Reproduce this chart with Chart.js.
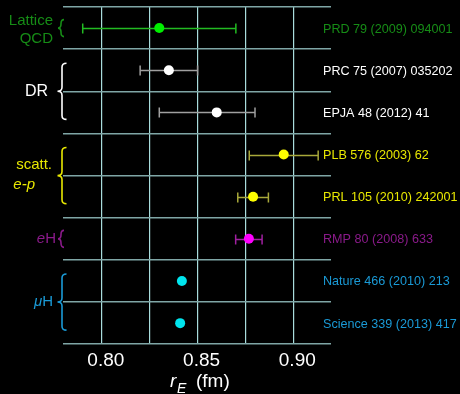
<!DOCTYPE html>
<html>
<head>
<meta charset="utf-8">
<script src="https://cdn.jsdelivr.net/npm/chart.js@4/dist/chart.umd.min.js"></script>
<style>
  html, body { margin: 0; padding: 0; background: #000; }
  #wrap { width: 460px; height: 394px; }
</style>
</head>
<body>
<div id="wrap"><canvas id="radiusChart" width="460" height="394"></canvas></div>
<script>
// references, one row each (top to bottom)
const refs = ['PRD 79 (2009) 094001', 'PRC 75 (2007) 035202', 'EPJA 48 (2012) 41', 'PLB 576 (2003) 62',
  'PRL 105 (2010) 242001', 'RMP 80 (2008) 633', 'Nature 466 (2010) 213', 'Science 339 (2013) 417'];
// proton charge radius r_E (fm) and error bars
const radius = [0.830, 0.835, 0.860, 0.895, 0.879, 0.8768, 0.8418, 0.8409];
const errLow = [0.040, 0.015, 0.030, 0.018, 0.008, 0.0069, 0, 0];
const errHigh = [0.040, 0.015, 0.020, 0.018, 0.008, 0.0069, 0, 0];
const pointColors = ['#00ee00', '#ffffff', '#ffffff', '#ffff00', '#ffff00', '#ff00ff', '#00e5ee', '#00e5ee'];
const barColors = ['#22bb22', '#a0a0a0', '#a0a0a0', '#a8a83a', '#a8a83a', '#a020a0', '#00e5ee', '#00e5ee'];
const labelColors = ['#168c16', '#ffffff', '#ffffff', '#e8e800', '#e8e800', '#8a1a8a', '#1a9ad6', '#1a9ad6'];
const xTicks = [0.80, 0.825, 0.85, 0.875, 0.90];
const xLabelled = [0.80, 0.85, 0.90];
// groups: first row, last row
const groupRows = [[0, 0], [1, 2], [3, 4], [5, 5], [6, 7]];
const groupColors = ['#168c16', '#ffffff', '#e8e800', '#8a1a8a', '#1a9ad6'];

const FONT = '"Liberation Sans", Arial, sans-serif';

const errorBars = {
  id: 'errorBars',
  beforeDatasetsDraw(chart) {
    const { ctx, scales: { x, y } } = chart;
    ctx.save();
    ctx.lineWidth = 1.5;
    radius.forEach((v, i) => {
      if (!errLow[i] && !errHigh[i]) return;
      const yy = Math.round(y.getPixelForValue(i)) + 0.5;
      const x0 = x.getPixelForValue(v - errLow[i]);
      const x1 = x.getPixelForValue(v + errHigh[i]);
      ctx.strokeStyle = barColors[i];
      ctx.beginPath();
      ctx.moveTo(x0, yy); ctx.lineTo(x1, yy);
      ctx.moveTo(x0, yy - 5); ctx.lineTo(x0, yy + 5);
      ctx.moveTo(x1, yy - 5); ctx.lineTo(x1, yy + 5);
      ctx.stroke();
    });
    ctx.restore();
  }
};

function brace(ctx, x, y0, y1, w) {
  const mid = (y0 + y1) / 2;
  const r = Math.min(4, (y1 - y0) / 4);
  ctx.beginPath();
  ctx.moveTo(x + w / 2, y0);
  ctx.quadraticCurveTo(x, y0, x, y0 + r);
  ctx.lineTo(x, mid - r);
  ctx.quadraticCurveTo(x, mid, x - w / 2, mid);
  ctx.quadraticCurveTo(x, mid, x, mid + r);
  ctx.lineTo(x, y1 - r);
  ctx.quadraticCurveTo(x, y1, x + w / 2, y1);
  ctx.stroke();
}

// draws a run of [text, italic] pieces, right aligned at xr
function drawRuns(ctx, runs, xr, yy, size, color) {
  ctx.fillStyle = color;
  ctx.textBaseline = 'middle';
  ctx.textAlign = 'left';
  let total = 0;
  runs.forEach(([t, it]) => { ctx.font = (it ? 'italic ' : '') + size + 'px ' + FONT; total += ctx.measureText(t).width; });
  let cx = xr - total;
  runs.forEach(([t, it]) => {
    ctx.font = (it ? 'italic ' : '') + size + 'px ' + FONT;
    ctx.fillText(t, cx, yy);
    cx += ctx.measureText(t).width;
  });
}

const annotations = {
  id: 'annotations',
  afterDraw(chart) {
    const { ctx, scales: { x, y } } = chart;
    ctx.save();
    // reference labels on the right
    ctx.font = '12.6px ' + FONT;
    ctx.textAlign = 'left';
    ctx.textBaseline = 'middle';
    refs.forEach((r, i) => {
      ctx.fillStyle = labelColors[i];
      ctx.fillText(r, 323, y.getPixelForValue(i) + 1);
    });
    // braces
    ctx.lineWidth = 1.6;
    groupRows.forEach(([a, b], g) => {
      ctx.strokeStyle = groupColors[g];
      const ya = y.getPixelForValue(a), yb = y.getPixelForValue(b);
      if (a === b) brace(ctx, 61, ya - 8.5, ya + 8.5, 6);
      else brace(ctx, 62, ya - 7, yb + 7, 9);
    });
    // group names
    drawRuns(ctx, [['Lattice', false]], 53, 21, 15, groupColors[0]);
    drawRuns(ctx, [['QCD', false]], 53, 39, 15, groupColors[0]);
    drawRuns(ctx, [['DR', false]], 48, 92, 16, groupColors[1]);
    drawRuns(ctx, [['scatt.', false]], 52, 165, 15, groupColors[2]);
    drawRuns(ctx, [['e-p', true]], 35, 185, 15, groupColors[2]);
    drawRuns(ctx, [['e', true], ['H', false]], 56, 239, 15, groupColors[3]);
    drawRuns(ctx, [['\u03bc', true], ['H', false]], 53, 302, 15, groupColors[4]);
    // axis title r_E (fm)
    ctx.fillStyle = '#ffffff';
    ctx.textBaseline = 'alphabetic';
    ctx.font = 'italic 19px ' + FONT;
    ctx.fillText('r', 170, 387);
    ctx.font = 'italic 14px ' + FONT;
    ctx.fillText('E', 177, 393);
    ctx.font = '19px ' + FONT;
    ctx.fillText('(fm)', 196, 387);
    ctx.restore();
  }
};

new Chart(document.getElementById('radiusChart'), {
  type: 'scatter',
  data: {
    labels: refs,
    datasets: [{
      data: radius.map((v, i) => ({ x: v, y: i })),
      pointRadius: 5,
      pointHoverRadius: 5,
      pointBorderWidth: 0,
      pointBackgroundColor: pointColors,
      pointBorderColor: pointColors
    }]
  },
  options: {
    responsive: false,
    animation: false,
    events: [],
    layout: { padding: { left: 63, right: 129, top: 7, bottom: 17 } },
    plugins: { legend: { display: false }, tooltip: { enabled: false } },
    scales: {
      x: {
        type: 'linear',
        min: 0.7797,
        max: 0.9197,
        afterBuildTicks: axis => { axis.ticks = xTicks.map(v => ({ value: v })); },
        grid: { color: '#a8dcdc', lineWidth: 1.2, drawTicks: false },
        border: { display: false },
        ticks: {
          color: '#ffffff',
          font: { family: FONT, size: 19 },
          padding: 5,
          labelOffset: 4,
          maxRotation: 0,
          autoSkip: false,
          callback: v => xLabelled.some(t => Math.abs(t - v) < 1e-6) ? v.toFixed(2) : ''
        }
      },
      y: {
        type: 'category',
        labels: refs,
        offset: true,
        grid: { offset: true, color: '#7fa6a6', lineWidth: 1.5, drawTicks: false },
        border: { display: false },
        ticks: { display: false }
      }
    }
  },
  plugins: [errorBars, annotations]
});
</script>
</body>
</html>
